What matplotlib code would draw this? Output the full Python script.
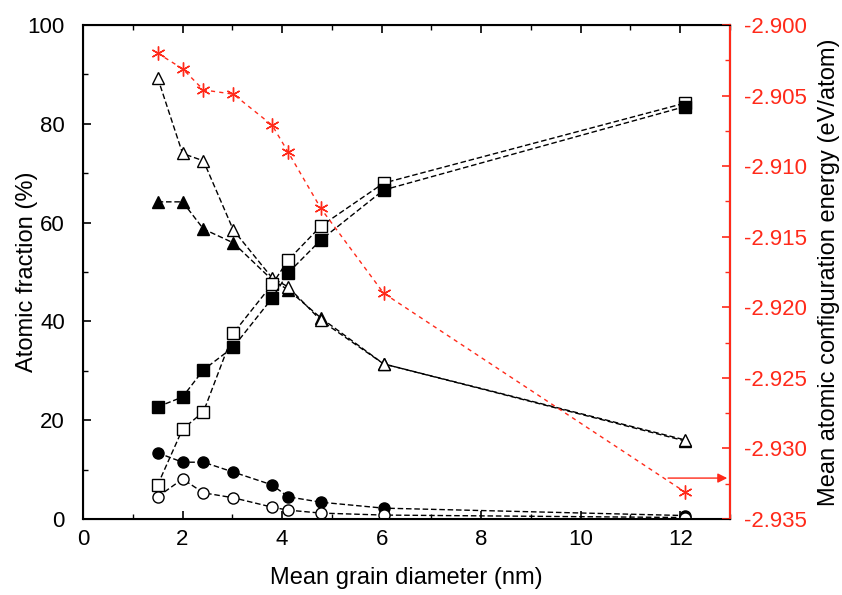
import matplotlib
matplotlib.use('Agg')
import matplotlib.pyplot as plt
from matplotlib.ticker import MultipleLocator, FormatStrFormatter

plt.rcParams['font.family'] = ['Liberation Sans', 'DejaVu Sans']

# mean grain diameters (nm)
diam = [1.5, 2.0, 2.42, 3.02, 3.8, 4.12, 4.78, 6.04, 12.1]

# atomic fractions (%)
open_tri = [89.3, 74.0, 72.5, 58.5, 48.8, 47.0, 40.2, 31.4, 16.0]
fill_tri = [64.2, 64.2, 58.7, 55.9, 48.4, 46.4, 40.7, 31.4, 15.8]
open_sq = [6.9, 18.2, 21.7, 37.6, 47.5, 52.4, 59.3, 68.0, 84.2]
fill_sq = [22.7, 24.7, 30.2, 34.8, 44.7, 49.8, 56.5, 66.6, 83.5]
fill_circ = [13.4, 11.5, 11.5, 9.5, 6.9, 4.5, 3.4, 2.2, 0.7]
open_circ = [4.5, 8.1, 5.3, 4.3, 2.4, 1.8, 1.2, 0.8, 0.3]

# mean atomic configuration energy (eV/atom)
energy = [-2.902, -2.9031, -2.9046, -2.9049, -2.9071, -2.9090, -2.9130, -2.9190, -2.9331]

red = '#ff2a1a'

fig = plt.figure(figsize=(8.42, 5.95), dpi=100)
ax = fig.add_axes([0.0986, 0.1277, 0.7684, 0.8303])

kw = dict(color='black', linestyle=(0, (4, 2)), linewidth=1.0, markersize=8)
ax.plot(diam, fill_tri, marker='^', mfc='black', mec='black', **kw)
ax.plot(diam, open_tri, marker='^', mfc='white', mec='black', **kw)
ax.plot(diam, open_sq, marker='s', mfc='white', mec='black', **kw)
ax.plot(diam, fill_sq, marker='s', mfc='black', mec='black', **kw)
ax.plot(diam, fill_circ, marker='o', mfc='black', mec='black', **kw)
ax.plot(diam, open_circ, marker='o', mfc='white', mec='black', **kw)

ax.set_xlim(0, 13)
ax.set_ylim(0, 100)
ax.xaxis.set_major_locator(MultipleLocator(2))
ax.xaxis.set_minor_locator(MultipleLocator(1))
ax.yaxis.set_major_locator(MultipleLocator(20))
ax.yaxis.set_minor_locator(MultipleLocator(10))
ax.tick_params(which='both', direction='in', top=True, labelsize=16)
ax.tick_params(which='major', length=6, width=1.2)
ax.tick_params(which='minor', length=3.5, width=1.0)
ax.tick_params(axis='x', which='major', pad=7)
ax.tick_params(axis='y', which='major', pad=13)
ax.set_xlabel('Mean grain diameter (nm)', fontsize=17)
ax.set_ylabel('Atomic fraction (%)', fontsize=17)
ax.xaxis.set_label_coords(0.5, -0.097)
ax.yaxis.set_label_coords(-0.07, 0.5)
for s in ax.spines.values():
    s.set_linewidth(1.5)

ax2 = ax.twinx()
ax2.plot(diam, energy, color=red, linestyle=(0, (3, 3)), linewidth=1.0,
         marker=(6, 2, 0), markersize=10, mec=red, mew=1.0)
ax2.set_ylim(-2.935, -2.900)
ax2.yaxis.set_major_locator(MultipleLocator(0.005))
ax2.yaxis.set_minor_locator(MultipleLocator(0.0025))
ax2.yaxis.set_major_formatter(FormatStrFormatter('%.3f'))
ax2.tick_params(which='both', direction='in', colors=red, labelsize=16)
ax2.tick_params(which='major', length=6, width=1.2, pad=10)
ax2.tick_params(which='minor', length=3.5, width=1.0)
ax2.spines['right'].set_color(red)
ax2.spines['right'].set_linewidth(1.5)
ax2.set_ylabel('Mean atomic configuration energy (eV/atom)', color='black', fontsize=17)
ax2.yaxis.set_label_coords(1.136, 0.5)

# arrow pointing to the right axis
ax2.annotate('', xy=(13.0, -2.9321), xytext=(11.7, -2.9321),
             arrowprops=dict(arrowstyle='-|>', color=red, lw=1.0, mutation_scale=14))

fig.savefig('out.png', dpi=100)
